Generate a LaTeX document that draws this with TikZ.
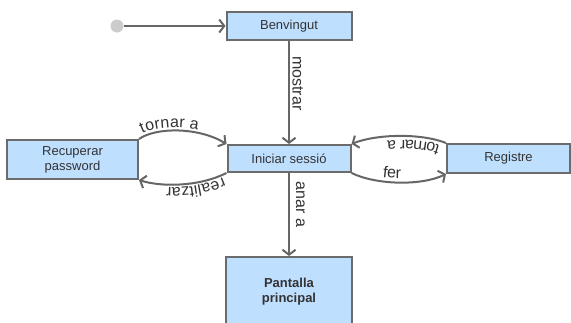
\documentclass[tikz,border=0pt]{standalone}
\usepackage{fontspec}
\setmainfont{Liberation Sans}
\usetikzlibrary{arrows.meta,decorations.text}
\definecolor{boxfill}{HTML}{BFDFFF}
\definecolor{boxline}{HTML}{6B6B6B}
\definecolor{wire}{HTML}{666666}
\definecolor{ink}{HTML}{333333}
\definecolor{startgrey}{HTML}{CCCCCC}
\newcommand\edgefont{\fontsize{16}{18}\selectfont}

\begin{document}
\begin{tikzpicture}[x=1pt,y=-1pt,
  state/.style={draw=boxline, line width=2pt, fill=boxfill, rectangle,
    inner sep=0pt, text=ink, font=\fontsize{13}{15}\selectfont, align=center},
  flow/.style={draw=wire, line width=2pt,
    -{Straight Barb[length=5pt,width=13pt]}},
  lbl/.style={text=ink, font=\edgefont},
  pathtext/.style={decorate, decoration={text along path,
    text={|\edgefont|#1}, text color=ink}},
]
\useasboundingbox (0,0) rectangle (571,322);
\clip (0,0) rectangle (571,322);

% states
\node[circle, fill=startgrey, inner sep=0pt, minimum size=13pt] (start) at (117,26) {};
\node[state, minimum width=125pt, minimum height=28pt] (welcome) at (289,26) {Benvingut};
\node[state, minimum width=123pt, minimum height=27pt] (login) at (289,158.5) {Iniciar sessió};
\node[state, minimum width=131pt, minimum height=39pt] (recover) at (72.5,159.5) {Recuperar\\password};
\node[state, minimum width=123pt, minimum height=29pt] (signup) at (508.5,158.5) {Registre};
\node[state, minimum width=126pt, minimum height=70pt, font=\fontsize{13}{15}\selectfont\bfseries] (home) at (289,292) {Pantalla\\principal};

% straight transitions
\draw[flow] (start) -- (welcome);
\draw[flow] (welcome) -- (login)
  node[lbl, pos=0.41, rotate=-90, anchor=south, inner sep=2.5pt] {mostrar};
\draw[flow] (login) -- (home)
  node[lbl, pos=0.38, rotate=-90, anchor=south, inner sep=6pt] {anar a};

% curved transitions between the side screens and the login
\draw[flow] (recover.north east) .. controls +(17,-12) and +(-28,-17) .. (login.north west);
\path[pathtext={tornar a}, decoration={text align={left indent=5pt}, raise=3pt}]
  (recover.north east) .. controls +(17,-12) and +(-28,-17) .. (login.north west);

\draw[flow] (login.south west) .. controls +(-28,14) and +(22,7) .. (recover.south east);
\path[pathtext={realitzar}, decoration={text align={left indent=5pt}, raise=3pt}]
  (login.south west) .. controls +(-28,14) and +(22,7) .. (recover.south east);

\draw[flow] (signup.north west) .. controls +(-25,-10) and +(25,-10) .. (login.north east);
\path[pathtext={tornar a}, decoration={text align={left indent=5pt}, raise=4pt}]
  (signup.north west) .. controls +(-25,-10) and +(25,-10) .. (login.north east);

\draw[flow] (login.south east) .. controls +(25,12) and +(-25,12) .. (signup.south west);
\path[pathtext={fer}, decoration={text align={left indent=32pt}, raise=4pt}]
  (login.south east) .. controls +(25,12) and +(-25,12) .. (signup.south west);
\end{tikzpicture}
\end{document}
